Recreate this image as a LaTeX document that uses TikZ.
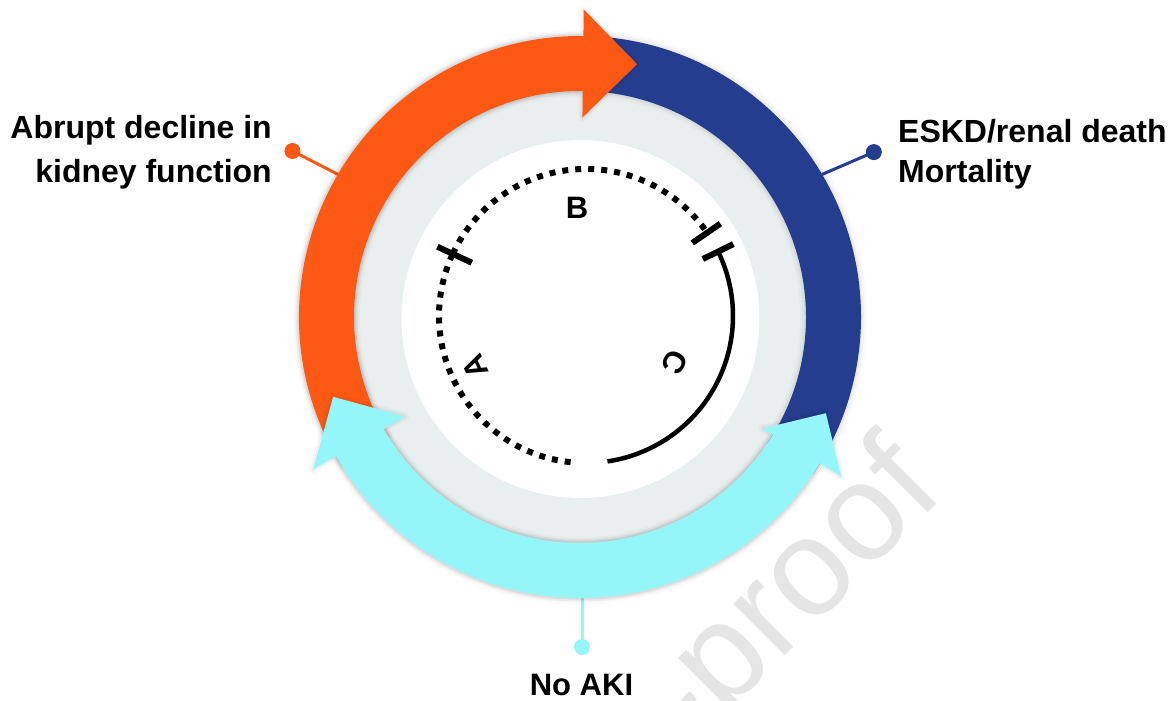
\documentclass[tikz,border=0pt]{standalone}
\usepackage{fontspec}
\setmainfont{Liberation Sans}
\usetikzlibrary{calc}
\definecolor{ringorange}{RGB}{253,89,20}
\definecolor{ringblue}{RGB}{36,61,143}
\definecolor{ringcyan}{RGB}{148,246,249}
\definecolor{discgray}{RGB}{233,239,239}
\definecolor{markgray}{RGB}{229,229,229}

\begin{document}
\begin{tikzpicture}[x=1pt,y=1pt,
  lbl/.style={inner sep=0pt, font=\fontsize{32}{38}\selectfont\bfseries},
  arclbl/.style={inner sep=0pt, font=\fontsize{31}{36}\selectfont\bfseries},
  pinline/.style={line width=3pt},
  pindot/.style={circle, inner sep=0pt, minimum size=16pt},
  tickmark/.style={line width=6pt},
  dotted arc/.style={line width=6pt, dash pattern=on 6pt off 7pt},
  solid arc/.style={line width=4.5pt},
]
\useasboundingbox (-580,-384) rectangle (592,317);

% faint diagonal watermark
\begin{scope}
  \clip (-580,-384) rectangle (592,317);
  \node[markgray, rotate=45, anchor=base east, inner sep=0pt,
        font=\fontsize{138}{142}\selectfont] (wm) at (366.6,-177.2) {Journal Pre-proof};
\end{scope}

% background discs
\fill[discgray] (0,0) circle (232);
\fill[white] (0.5,-2) circle (179);

% label pins
\coordinate (oA) at (149.5:281);
\coordinate (bA) at (30.5:281);
\coordinate (cA) at (2,-281);
\node[pindot, fill=ringorange] (oDot) at (150:332) {};
\node[pindot, fill=ringblue] (bDot) at (29.3:337) {};
\node[pindot, fill=ringcyan] (cDot) at (2,-330) {};
\draw[pinline, ringorange] (oA) -- (oDot.center);
\draw[pinline, ringblue] (bA) -- (bDot.center);
\draw[pinline, ringcyan] (cA) -- (cDot.center);

% soft shadow round the ring
\foreach \w/\o in {12/0.02,7/0.03,3/0.04}{
  \draw[black, opacity=\o, line width=\w pt] (0,0) circle (281) (0,0) circle (226);
}

% ring segments
\def\bluepath{(85:281) arc[start angle=85,end angle=-34,radius=281]
  -- (-34:226) arc[start angle=-34,end angle=85,radius=226] -- cycle}
\def\orangepath{(212:281) arc[start angle=212,end angle=89.3,radius=281]
  -- (89.3:307.5) -- ($(89.3:253.5)+(-0.7:54)$) -- (89.3:199.5)
  -- (89.3:226) arc[start angle=89.3,end angle=212,radius=226] -- cycle}
\def\cyanpath{(209.7:281) arc[start angle=209.7,end angle=328.6,radius=281]
  -- (328.6:306) -- ($(328.6:260)+(58.6:46)$) -- (328.6:214)
  -- (328.6:226) arc[start angle=328.6,end angle=209.7,radius=226]
  -- (209.7:201) -- ($(209.7:254)+(119.7:53)$) -- (209.7:307) -- cycle}

\fill[ringblue] \bluepath;
\foreach \w/\o in {8/0.025,4/0.04}{
  \draw[black, opacity=\o, line width=\w pt, line join=round] \orangepath;
}
\fill[ringorange] \orangepath;
\foreach \w/\o in {8/0.025,4/0.04}{
  \draw[black, opacity=\o, line width=\w pt, line join=round] \cyanpath;
}
\fill[ringcyan] \cyanpath;

% inner timeline
\coordinate (ic) at (6,1);
\draw[dotted arc] ($(ic)+(264:147)$) arc[start angle=264,end angle=155,radius=147];
\draw[dotted arc] ($(ic)+(155:147)$) arc[start angle=155,end angle=34.5,radius=147];
\draw[tickmark] ($(ic)+(155:126)$) -- ($(ic)+(155:164)$);
\draw[tickmark] ($(ic)+(34.5:129)$) -- ($(ic)+(34.5:163)$);
\draw[tickmark] ($(ic)+(26:130)$) -- ($(ic)+(26:164)$);
\draw[solid arc] ($(ic)+(26:147)$) arc[start angle=26,end angle=-81.6,radius=147];

\node[arclbl, rotate=114.7] (la) at (-105,-50) {A};
\node[arclbl] (lb) at (-3,109) {B};
\node[arclbl, rotate=-117.3] (lc) at (95,-45) {C};

% outcome labels
\node[lbl, anchor=base east] (t1) at (-308,178) {Abrupt decline in};
\node[lbl, anchor=base east] (t2) at (-308,134.5) {kidney function};
\node[lbl, anchor=base west] (t3) at (318,174.5) {ESKD/renal death};
\node[lbl, anchor=base west] (t4) at (318,134) {Mortality};
\node[inner sep=0pt, font=\fontsize{31}{36}\selectfont\bfseries, anchor=base] (t5) at (1.5,-378) {No AKI};
\end{tikzpicture}
\end{document}
